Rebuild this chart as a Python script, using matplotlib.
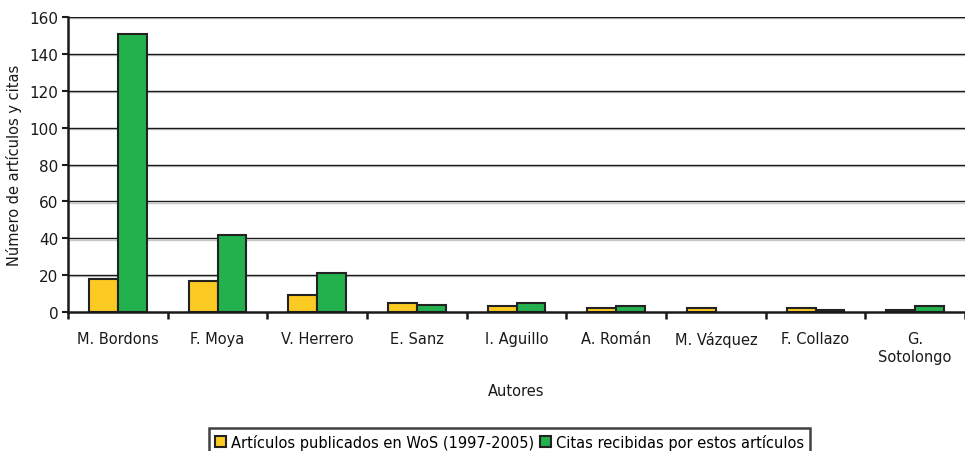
import numpy as np
import matplotlib.pyplot as plt
from matplotlib.ticker import FixedLocator

autores = ["M. Bordons", "F. Moya", "V. Herrero", "E. Sanz", "I. Aguillo",
           "A. Román", "M. Vázquez", "F. Collazo", "G.\nSotolongo"]
articulos = [18, 17, 9, 5, 3, 2, 2, 2, 1]
citas = [151, 42, 21, 4, 5, 3, 0, 1, 3]

serie_art = "Artículos publicados en WoS (1997-2005)"
serie_cit = "Citas recibidas por estos artículos"

plt.rcParams["font.family"] = ["DejaVu Sans"]

fig = plt.figure(figsize=(9.65, 4.52), dpi=100)
ax = fig.add_axes([0.0705, 0.3075, 0.9295, 0.6525])

x = np.arange(len(autores))
w = 0.29

# grid lines with a faint shadow underneath, as in the original
for v in range(20, 161, 20):
    ax.axhline(v - 0.7, color="#c8c8c8", lw=1.0, zorder=0.4)
    ax.axhline(v, color="#1a1a1a", lw=1.0, zorder=0.6)

ax.bar(x - w / 2, articulos, w, color="#fccb23", edgecolor="#222222",
       linewidth=[1.5 if a > 0 else 0 for a in articulos],
       label=serie_art, zorder=2)
ax.bar(x + w / 2, citas, w, color="#22b14c", edgecolor="#222222",
       linewidth=[1.5 if c > 0 else 0 for c in citas],
       label=serie_cit, zorder=2)

ax.set_xlim(-0.5, len(autores) - 0.5)
ax.set_ylim(0, 160)
ax.set_yticks(range(0, 161, 20))
ax.tick_params(axis="y", labelsize=11, length=4, width=1.5, pad=3,
               colors="#1a1a1a")

ax.set_xticks(x)
ax.set_xticklabels(autores, fontsize=10.5, color="#1a1a1a")
ax.tick_params(axis="x", which="major", length=0, pad=14)
ax.xaxis.set_minor_locator(FixedLocator(np.arange(-0.5, len(autores), 1.0)))
ax.tick_params(axis="x", which="minor", length=5, width=1.8, color="#1a1a1a")

for s in ["top", "right"]:
    ax.spines[s].set_visible(False)
ax.spines["left"].set_linewidth(1.8)
ax.spines["bottom"].set_linewidth(1.8)
ax.spines["left"].set_color("#1a1a1a")
ax.spines["bottom"].set_color("#1a1a1a")

ax.set_ylabel("Número de artículos y citas", fontsize=10.5, labelpad=5,
              color="#1a1a1a")
ax.set_xlabel("Autores", fontsize=10.5, labelpad=14, color="#1a1a1a")

leg = fig.legend(loc="lower left", bbox_to_anchor=(0.2165, -0.01),
                 ncol=2, fontsize=10.5, frameon=True, fancybox=False,
                 handlelength=0.8, handleheight=0.8, handletextpad=0.3,
                 columnspacing=0.4, borderpad=0.4, borderaxespad=0)
leg.get_frame().set_edgecolor("#111111")
leg.get_frame().set_linewidth(1.8)

fig.savefig("out.png", dpi=100)
